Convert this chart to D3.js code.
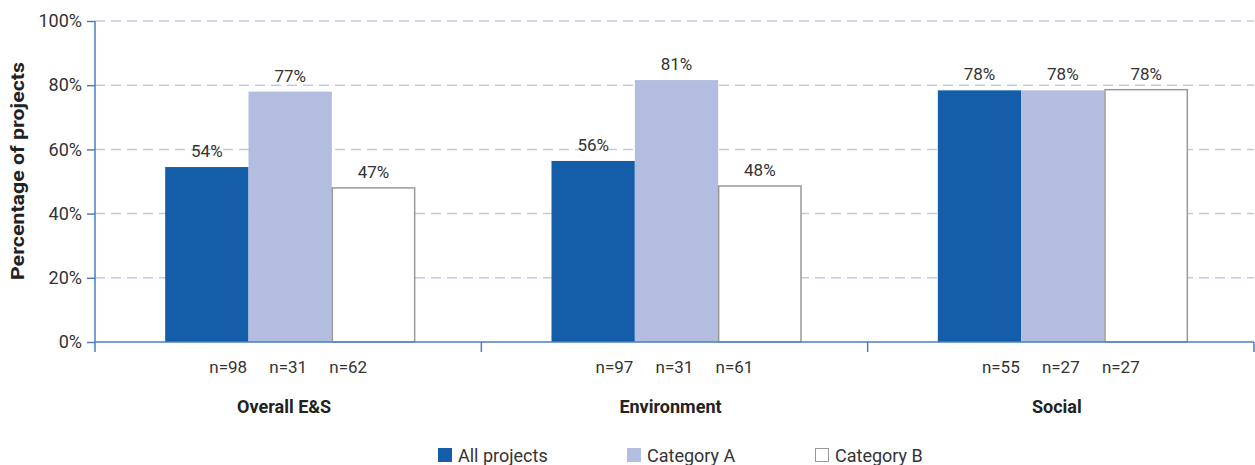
<!DOCTYPE html>
<html><head><meta charset="utf-8">
<script src="https://cdn.jsdelivr.net/npm/d3@7"></script>
<style>
body{margin:0;background:#fff;}
text{font-family:Roboto,"Liberation Sans",sans-serif;}
</style></head><body>
<svg id="c" width="1255" height="465"></svg>
<script>
const categories = ["Overall E&S", "Environment", "Social"];
const seriesNames = ["All projects", "Category A", "Category B"];
const allProjects = [54.5, 56.4, 78.4];
const categoryA = [78.0, 81.6, 78.4];
const categoryB = [48.0, 48.6, 78.6];
const labelsAll = ["54%", "56%", "78%"];
const labelsA = ["77%", "81%", "78%"];
const labelsB = ["47%", "48%", "78%"];
const nAll = ["n=98", "n=97", "n=55"];
const nA = ["n=31", "n=31", "n=27"];
const nB = ["n=62", "n=61", "n=27"];
const yTicks = [0, 20, 40, 60, 80, 100];

const fills = ["#145DA9", "#B2BDDF", "#FFFFFF"];
const strokes = [null, null, "#999999"];

const svg = d3.select("#c");
const mLeft = 95, mRight = 1254, mTop = 21, mBottom = 342;
const x = d3.scaleBand().domain(categories).range([mLeft, mRight]).padding(0);
const y = d3.scaleLinear().domain([0, 100]).range([mBottom, mTop]);
const xs = d3.scaleBand().domain(seriesNames).range([-123, 127]);
const nOff = d3.scalePoint().domain(seriesNames).range([-60, 60]);

// gridlines
svg.append("g").selectAll("line").data(yTicks.filter(d => d > 0)).join("line")
  .attr("x1", mLeft).attr("x2", mRight)
  .attr("y1", d => y(d)).attr("y2", d => y(d))
  .attr("stroke", "#C3CAE5").attr("stroke-width", 1.5).attr("stroke-dasharray", "10,6");

const series = [
  {name: seriesNames[0], vals: allProjects, labs: labelsAll, ns: nAll},
  {name: seriesNames[1], vals: categoryA, labs: labelsA, ns: nA},
  {name: seriesNames[2], vals: categoryB, labs: labelsB, ns: nB}
];

series.forEach((s, si) => {
  const g = svg.append("g");
  g.selectAll("rect").data(categories).join("rect")
    .attr("x", (c) => x(c) + x.bandwidth() / 2 + xs(s.name) + (strokes[si] ? 0.5 : 0))
    .attr("width", xs.bandwidth() - (strokes[si] ? 1 : 0))
    .attr("y", (c, i) => y(s.vals[i]))
    .attr("height", (c, i) => y(0) - y(s.vals[i]))
    .attr("fill", fills[si])
    .attr("stroke", strokes[si] || "none").attr("stroke-width", 1.5);
  g.selectAll("text.v").data(categories).join("text").attr("class", "v")
    .attr("x", c => x(c) + x.bandwidth() / 2 + xs(s.name) + xs.bandwidth() / 2)
    .attr("y", (c, i) => y(s.vals[i]) - 10)
    .attr("text-anchor", "middle").attr("font-size", 17).attr("fill", "#333")
    .text((c, i) => s.labs[i]);
  g.selectAll("text.n").data(categories).join("text").attr("class", "n")
    .attr("x", c => x(c) + x.bandwidth() / 2 + nOff(s.name))
    .attr("y", 373)
    .attr("text-anchor", "middle").attr("font-size", 17).attr("fill", "#333")
    .text((c, i) => s.ns[i]);
});

// y axis
const yAxis = d3.axisLeft(y).tickValues(yTicks).tickFormat(d => d + "%").tickSize(8);
const ya = svg.append("g").attr("transform", `translate(${mLeft},0)`).call(yAxis);
ya.select(".domain").attr("stroke", "#4A7FC1").attr("stroke-width", 1.5).attr("d", `M0,${mTop}V${mBottom + 10}`);
ya.selectAll(".tick line").attr("stroke", "#4A7FC1").attr("stroke-width", 1.5);
ya.selectAll(".tick text").attr("font-size", 18).attr("fill", "#333").attr("x", -13)
  .style("font-family", 'Roboto,"Liberation Sans",sans-serif');

// x axis
const xa = svg.append("g").attr("transform", `translate(0,${mBottom})`);
xa.append("line").attr("x1", mLeft).attr("x2", mRight).attr("stroke", "#4A7FC1").attr("stroke-width", 1.5);
const bounds = categories.map(c => x(c)).concat([mRight]);
xa.selectAll("line.t").data(bounds.slice(1)).join("line").attr("class", "t")
  .attr("x1", d => d).attr("x2", d => d).attr("y1", 0).attr("y2", 10)
  .attr("stroke", "#4A7FC1").attr("stroke-width", 1.5);

svg.append("g").selectAll("text").data(categories).join("text")
  .attr("x", c => x(c) + x.bandwidth() / 2 - 4)
  .attr("y", 413).attr("text-anchor", "middle").attr("font-size", 18)
  .attr("font-weight", "bold").attr("fill", "#222").text(c => c);

// y title
svg.append("text").attr("transform", `translate(24,171) rotate(-90)`)
  .attr("text-anchor", "middle").attr("font-size", 18).attr("font-weight", "bold").attr("fill", "#222")
  .attr("textLength", 218).attr("lengthAdjust", "spacingAndGlyphs")
  .text("Percentage of projects");

// legend
const legX = [438, 627, 815];
const lg = svg.append("g");
seriesNames.forEach((n, i) => {
  lg.append("rect").attr("x", legX[i] + (strokes[i] ? 0.5 : 0)).attr("y", 448 + (strokes[i] ? 0.5 : 0))
    .attr("width", strokes[i] ? 13 : 14).attr("height", strokes[i] ? 13 : 14)
    .attr("fill", fills[i]).attr("stroke", strokes[i] || "none");
  lg.append("text").attr("x", legX[i] + 20).attr("y", 462).attr("font-size", 18).attr("fill", "#333").text(n);
});
</script>
</body></html>
